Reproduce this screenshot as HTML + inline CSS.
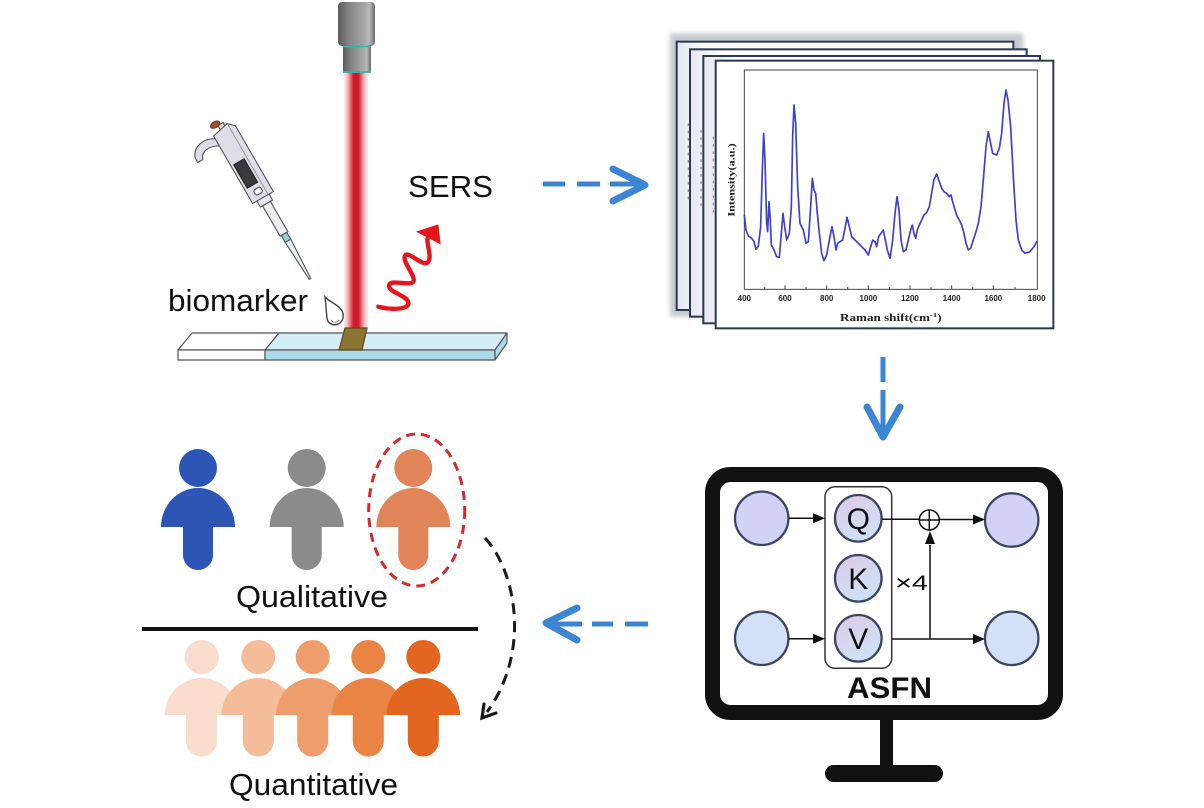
<!DOCTYPE html>
<html>
<head>
<meta charset="utf-8">
<style>
  html,body{margin:0;padding:0;background:#fff;}
  body{width:1204px;height:808px;overflow:hidden;}
  svg{display:block;}
  text{font-family:"Liberation Sans",Arial,sans-serif;}
  .serif{font-family:"Liberation Serif","Times New Roman",serif;font-weight:bold;}
</style>
</head>
<body>
<svg width="1204" height="808" viewBox="0 0 1204 808" xmlns="http://www.w3.org/2000/svg">
  <defs>
    <linearGradient id="capG" x1="0" x2="1" y1="0" y2="0">
      <stop offset="0" stop-color="#5c5c5c"/>
      <stop offset="0.3" stop-color="#858585"/>
      <stop offset="0.7" stop-color="#a6a6a6"/>
      <stop offset="0.85" stop-color="#b8b8b8"/>
      <stop offset="1" stop-color="#6a6a6a"/>
    </linearGradient>
    <linearGradient id="beamG" x1="0" x2="1" y1="0" y2="0">
      <stop offset="0" stop-color="#f6c6cb" stop-opacity="0.3"/>
      <stop offset="0.2" stop-color="#ef9aa3"/>
      <stop offset="0.4" stop-color="#cf1a2c"/>
      <stop offset="0.6" stop-color="#cf1a2c"/>
      <stop offset="0.8" stop-color="#ef9aa3"/>
      <stop offset="1" stop-color="#f6c6cb" stop-opacity="0.3"/>
    </linearGradient>
    <linearGradient id="qkvG" x1="0" x2="0.4" y1="0" y2="1">
      <stop offset="0" stop-color="#ddc9e6"/>
      <stop offset="1" stop-color="#cfe1f6"/>
    </linearGradient>
    <linearGradient id="sheetG" x1="0" x2="1" y1="0" y2="0">
      <stop offset="0" stop-color="#e4e8ef"/>
      <stop offset="0.1" stop-color="#ffffff"/>
    </linearGradient>
    <filter id="blur" x="-20%" y="-20%" width="140%" height="140%">
      <feGaussianBlur stdDeviation="6"/>
    </filter>
  </defs>

  <!-- ================= TOP LEFT: laser / pipette / slide ================= -->
  <rect x="338" y="2" width="37" height="44" rx="4" fill="url(#capG)"/>
  <rect x="343" y="45" width="28" height="28" fill="url(#capG)"/>
  <line x1="343" y1="46.5" x2="371" y2="46.5" stroke="#39b4ad" stroke-width="1.5"/>
  <line x1="343" y1="72" x2="371" y2="72" stroke="#39b4ad" stroke-width="1.8"/>
  <rect x="344" y="73" width="24" height="257" fill="url(#beamG)"/>

  <g stroke="#555" stroke-width="1.2" stroke-linejoin="round">
    <polygon points="192,333 279,333 265,350 178,350" fill="#ffffff"/>
    <polygon points="279,333 507,333 495,350 265,350" fill="#d5eef6"/>
    <polygon points="178,350 265,350 265,360 178,360" fill="#ffffff"/>
    <polygon points="265,350 495,350 495,360 265,360" fill="#a9dbeb"/>
    <polygon points="495,350 507,333 507,343 495,360" fill="#a9dbeb"/>
  </g>
  <polygon points="345,328 367,328 362,350 339,350" fill="#8b7534" stroke="#5e4a1a" stroke-width="1.2"/>

  <path d="M325,297 C330,303 345,306 343,318 C341,327 328,327 327,318 C326,310 326,303 325,297 Z" fill="#fff" stroke="#444" stroke-width="1.4"/>
  <path d="M331,320 C333,323 337,323 339,320" fill="none" stroke="#777" stroke-width="0.8"/>

  <!-- pipette -->
  <g transform="translate(224,130) rotate(-30)" stroke="#555" stroke-width="1.1" stroke-linejoin="round">
    <rect x="-3" y="-7" width="6" height="8" fill="#d8d8e2"/>
    <ellipse cx="-5" cy="-9" rx="5" ry="3" fill="#a8502a" stroke="#5a3a20"/>
    <path d="M-11,4 C-20,-3 -35,-2 -39,10 L-39,15 L-33,15 C-31,7 -21,6 -11,12 Z" fill="#dcdce8"/>
    <path d="M-12,0 L6,-4 L12,2 L12,78 L-12,78 Z" fill="#dedee9"/>
    <line x1="6" y1="-4" x2="6" y2="78" stroke="#888" stroke-width="0.8"/>
    <rect x="-9" y="35" width="12" height="27" fill="#3a3a3a" stroke="#222"/>
    <rect x="-5" y="67" width="8" height="6" rx="2" fill="#fff"/>
    <rect x="-7" y="78" width="14" height="7" fill="#e8e8f0"/>
    <rect x="-4.5" y="85" width="9" height="35" fill="#ececf3"/>
    <rect x="-3.2" y="120" width="6.4" height="8" fill="#8fd0e0"/>
    <polygon points="-3.2,128 3.2,128 0.9,172 -0.9,172" fill="#e3f0f4"/>
  </g>

  <!-- red wave -->
  <g transform="translate(370,215) scale(0.33333)">
    <path d="M25,275 C60,285 120,285 115,262 C110,240 55,232 57,212 C60,190 120,215 130,200 C140,185 95,140 105,122 C115,105 160,160 175,140 C185,125 172,95 172,72" fill="none" stroke="#e8141c" stroke-width="13" stroke-linecap="round" stroke-linejoin="round"/>
    <polygon points="205,28 138,50 212,88" fill="#e8141c"/>
  </g>

  <text x="408" y="197" font-size="31" fill="#111" textLength="85" lengthAdjust="spacingAndGlyphs">SERS</text>
  <text x="168" y="311" font-size="31" fill="#111" textLength="140" lengthAdjust="spacingAndGlyphs">biomarker</text>

  <!-- ================= ARROWS ================= -->
  <g stroke="#3c85d2" fill="none" stroke-linecap="butt">
    <line x1="543" y1="184" x2="565" y2="184" stroke-width="5"/>
    <line x1="577" y1="184" x2="600" y2="184" stroke-width="5"/>
    <line x1="610" y1="184" x2="640" y2="184" stroke-width="5"/>
    <polyline points="613,169 645,185 613,201" stroke-width="7" stroke-linecap="round" stroke-linejoin="round"/>

    <line x1="883" y1="357" x2="883" y2="382" stroke-width="5"/>
    <line x1="883" y1="390" x2="883" y2="430" stroke-width="5"/>
    <polyline points="867,407 883,437 900,407" stroke-width="7" stroke-linecap="round" stroke-linejoin="round"/>

    <line x1="553" y1="624" x2="582" y2="624" stroke-width="5"/>
    <line x1="592" y1="624" x2="613" y2="624" stroke-width="5"/>
    <line x1="625" y1="624" x2="648" y2="624" stroke-width="5"/>
    <polyline points="577,608 546,623 577,640" stroke-width="7" stroke-linecap="round" stroke-linejoin="round"/>
  </g>

  <!-- ================= SPECTRA STACK ================= -->
  <g transform="translate(650,20) scale(0.33333)">
    <rect x="60" y="40" width="1060" height="850" fill="#9aa0aa" opacity="0.55" filter="url(#blur)"/>
    <g stroke="#2b3852" stroke-width="6">
      <rect x="80" y="65" width="1010" height="805" fill="url(#sheetG)"/>
      <rect x="120" y="88" width="1010" height="802" fill="url(#sheetG)"/>
      <rect x="160" y="108" width="1010" height="802" fill="url(#sheetG)"/>
      <rect x="197" y="122" width="1013" height="803" fill="#ffffff"/>
    </g>
    <g stroke="#555" stroke-width="4" stroke-dasharray="8 14" opacity="0.6">
      <line x1="115" y1="310" x2="115" y2="540"/>
      <line x1="153" y1="330" x2="153" y2="560"/>
      <line x1="190" y1="350" x2="190" y2="580"/>
    </g>
    <rect x="283" y="150" width="879" height="658" fill="none" stroke="#444" stroke-width="3"/>
    <g stroke="#444" stroke-width="3">
      <line x1="405" y1="808" x2="405" y2="796"/>
      <line x1="530" y1="808" x2="530" y2="796"/>
      <line x1="655" y1="808" x2="655" y2="796"/>
      <line x1="780" y1="808" x2="780" y2="796"/>
      <line x1="905" y1="808" x2="905" y2="796"/>
      <line x1="1030" y1="808" x2="1030" y2="796"/>
      <line x1="344" y1="808" x2="344" y2="801"/>
      <line x1="468" y1="808" x2="468" y2="801"/>
      <line x1="593" y1="808" x2="593" y2="801"/>
      <line x1="718" y1="808" x2="718" y2="801"/>
      <line x1="843" y1="808" x2="843" y2="801"/>
      <line x1="968" y1="808" x2="968" y2="801"/>
      <line x1="1095" y1="808" x2="1095" y2="801"/>
    </g>
    <polyline fill="none" stroke="#3b3fd2" stroke-width="5" stroke-linejoin="round" stroke-linecap="round" points="283,585 288,630 295,648 305,655 312,665 318,688 325,678 332,620 337,450 341,340 345,420 350,610 353,635 357,545 361,600 364,675 372,690 380,710 388,712 394,640 399,580 404,620 410,660 418,640 424,560 428,350 432,255 437,310 443,500 450,610 460,630 468,670 475,665 482,560 487,475 492,510 497,520 502,580 508,640 515,700 522,722 530,705 538,660 546,620 552,650 558,690 563,670 570,665 578,660 585,625 591,592 598,620 605,650 615,660 625,670 635,680 645,690 655,705 662,680 668,660 675,665 680,680 686,650 693,640 700,630 706,660 712,690 720,715 728,660 735,580 741,530 747,570 753,660 760,695 768,690 775,660 782,630 787,615 792,640 797,655 802,630 808,615 815,600 822,585 830,578 838,560 845,520 852,478 860,462 868,485 875,505 882,515 890,520 897,530 903,525 908,545 915,570 922,590 928,600 935,615 942,640 948,670 955,690 962,685 970,660 978,635 985,610 993,560 1000,480 1008,380 1015,335 1020,360 1028,400 1040,405 1048,385 1055,340 1062,250 1068,210 1074,240 1082,320 1090,470 1098,600 1105,660 1115,690 1125,700 1140,695 1152,680 1160,665"/>
    <g class="serif" font-size="24" fill="#222" text-anchor="middle">
      <text x="283" y="843">400</text>
      <text x="405" y="843">600</text>
      <text x="530" y="843">800</text>
      <text x="655" y="843">1000</text>
      <text x="780" y="843">1200</text>
      <text x="905" y="843">1400</text>
      <text x="1030" y="843">1600</text>
      <text x="1160" y="843">1800</text>
    </g>
    <text class="serif" x="570" y="903" font-size="30" fill="#222" textLength="305" lengthAdjust="spacingAndGlyphs">Raman shift(cm<tspan font-size="20" dy="-12">-1</tspan><tspan dy="12">)</tspan></text>
    <text class="serif" transform="translate(254,590) rotate(-90)" x="0" y="0" font-size="27" fill="#222" textLength="220" lengthAdjust="spacingAndGlyphs">Intensity(a.u.)</text>
  </g>

  <!-- ================= MONITOR / ASFN ================= -->
  <rect x="712.5" y="474.5" width="343" height="238" rx="18" fill="#fff" stroke="#111" stroke-width="15"/>
  <rect x="880" y="719" width="13" height="50" fill="#111"/>
  <rect x="825" y="765" width="118" height="17" rx="8.5" fill="#111"/>

  <g stroke="#3c4660" stroke-width="2.3">
    <circle cx="761.7" cy="518.3" r="26.7" fill="#d4d1f6"/>
    <circle cx="761.7" cy="638.3" r="26.7" fill="#d3e0f7"/>
    <circle cx="1011.7" cy="520" r="26.7" fill="#d4d1f6"/>
    <circle cx="1011.7" cy="638.3" r="26.7" fill="#d3e0f7"/>
  </g>
  <rect x="825" y="486.7" width="66.7" height="181.6" rx="10" fill="#fff" stroke="#333" stroke-width="1.5"/>
  <g stroke="#3c4660" stroke-width="2.3" fill="url(#qkvG)">
    <circle cx="858.3" cy="518.3" r="23.3"/>
    <circle cx="858.3" cy="578.3" r="23.3"/>
    <circle cx="858.3" cy="638.3" r="23.3"/>
  </g>
  <g font-size="30" fill="#111" text-anchor="middle">
    <text x="858.3" y="529">Q</text>
    <text x="858.3" y="589">K</text>
    <text x="858.3" y="649">V</text>
  </g>
  <g stroke="#111" stroke-width="1.5" fill="none">
    <line x1="788.5" y1="518.3" x2="815" y2="518.3"/>
    <line x1="788.5" y1="638.8" x2="815" y2="638.8"/>
    <line x1="882" y1="519.3" x2="919.5" y2="519.3"/>
    <line x1="939" y1="519.5" x2="975" y2="519.5"/>
    <line x1="892" y1="639" x2="975" y2="639"/>
    <line x1="930" y1="639" x2="930" y2="545"/>
    <circle cx="929.3" cy="520" r="10"/>
    <line x1="919.3" y1="520" x2="939.3" y2="520"/>
    <line x1="929.3" y1="510" x2="929.3" y2="530"/>
  </g>
  <g fill="#111">
    <polygon points="825,518.3 813,513.3 813,523.3"/>
    <polygon points="825,638.8 813,633.8 813,643.8"/>
    <polygon points="985,519.5 973,514.5 973,524.5"/>
    <polygon points="985,639 973,634 973,644"/>
    <polygon points="930,531 925,544 935,544"/>
  </g>
  <text x="895" y="590" font-size="21" fill="#111" textLength="33" lengthAdjust="spacingAndGlyphs">×4</text>
  <text x="847" y="698" font-size="30" font-weight="bold" fill="#111" textLength="85" lengthAdjust="spacingAndGlyphs">ASFN</text>

  <!-- ================= PEOPLE ================= -->
  <g fill="#2d55b5">
    <circle cx="198" cy="468" r="19"/>
    <path d="M161,527 A37,39 0 0 1 235,527 L213,527 L213,555 A15,15 0 0 1 183,555 L183,527 Z"/>
  </g>
  <g fill="#8b8b8b">
    <circle cx="306.7" cy="468" r="19"/>
    <path d="M269.7,527 A37,39 0 0 1 343.7,527 L321.7,527 L321.7,555 A15,15 0 0 1 291.7,555 L291.7,527 Z"/>
  </g>
  <g fill="#e2845a">
    <circle cx="413.3" cy="468" r="19"/>
    <path d="M376.3,527 A37,39 0 0 1 450.3,527 L428.3,527 L428.3,555 A15,15 0 0 1 398.3,555 L398.3,527 Z"/>
  </g>
  <ellipse cx="416.7" cy="510" rx="48" ry="76" fill="none" stroke="#d42a2e" stroke-width="3" stroke-dasharray="9 6"/>

  <text x="236" y="607" font-size="31" fill="#111" textLength="152" lengthAdjust="spacingAndGlyphs">Qualitative</text>
  <line x1="142" y1="629" x2="478" y2="629" stroke="#111" stroke-width="4"/>

  <g fill="#f9dccb">
    <circle cx="201.7" cy="657" r="17"/>
    <path d="M165,715 A36.7,37 0 0 1 238.4,715 L217,715 L217,741 A15.5,15.5 0 0 1 186,741 L186,715 Z"/>
  </g>
  <g fill="#f4bc98">
    <circle cx="258.3" cy="657" r="17"/>
    <path d="M221.6,715 A36.7,37 0 0 1 295,715 L273.8,715 L273.8,741 A15.5,15.5 0 0 1 242.8,741 L242.8,715 Z"/>
  </g>
  <g fill="#ee9e6c">
    <circle cx="312.7" cy="657" r="17"/>
    <path d="M276,715 A36.7,37 0 0 1 349.4,715 L328.2,715 L328.2,741 A15.5,15.5 0 0 1 297.2,741 L297.2,715 Z"/>
  </g>
  <g fill="#e98444">
    <circle cx="368.3" cy="657" r="17"/>
    <path d="M331.6,715 A36.7,37 0 0 1 405,715 L383.8,715 L383.8,741 A15.5,15.5 0 0 1 352.8,741 L352.8,715 Z"/>
  </g>
  <g fill="#e2661f">
    <circle cx="423.3" cy="657" r="17"/>
    <path d="M386.6,715 A36.7,37 0 0 1 460,715 L438.8,715 L438.8,741 A15.5,15.5 0 0 1 407.8,741 L407.8,715 Z"/>
  </g>

  <text x="229" y="795" font-size="31" fill="#111" textLength="169" lengthAdjust="spacingAndGlyphs">Quantitative</text>

  <path d="M485,538 C515,570 532,650 487,712" fill="none" stroke="#1a1a1a" stroke-width="3" stroke-dasharray="11 7"/>
  <polyline points="484,704 482,718 496,713" fill="none" stroke="#1a1a1a" stroke-width="3.2" stroke-linejoin="miter" stroke-linecap="round"/>
</svg>
</body>
</html>
